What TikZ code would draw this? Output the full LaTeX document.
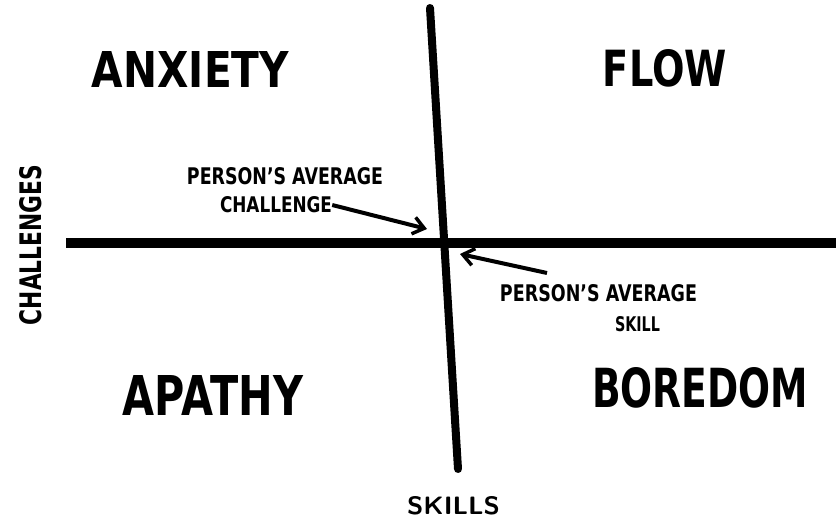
\documentclass[tikz,border=0pt]{standalone}
\usepackage{fontspec}
\setmainfont{DejaVu Sans}
\usepackage{graphicx}
\usetikzlibrary{arrows.meta}
\tikzset{
  big/.style={inner sep=0pt, font=\bfseries},
  small/.style={inner sep=0pt, font=\bfseries},
  axis/.style={line width=#1, line cap=round},
  pointer/.style={line width=4pt, -{Straight Barb[length=11pt,width=17pt,line width=3.5pt]}}
}
\newcommand{\fitbox}[3]{\resizebox{#1pt}{#2pt}{#3}}
\begin{document}
\begin{tikzpicture}[x=1pt,y=-1pt]
\useasboundingbox (0,0) rectangle (836,521);
% axes
\coordinate (vtop) at (430,8);
\coordinate (vbot) at (458,469);
\coordinate (hleft) at (66,243);
\coordinate (hright) at (836,243);
\draw[axis=8pt] (vtop) -- (vbot);
\draw[axis=10pt,line cap=butt] (hleft) -- (hright);
% quadrant labels
\node[big] (anx) at (190.5,70) {\fitbox{197}{36}{ANXIETY}};
\node[big] (flow) at (665,68.5) {\fitbox{124}{37}{FLOW}};
\node[big] (apa) at (213,395) {\fitbox{180}{40}{APATHY}};
\node[big] (bor) at (700,388) {\fitbox{216}{40}{BOREDOM}};
% axis labels
\node[small,rotate=90] (chal) at (31,245) {\fitbox{160}{22}{CHALLENGES}};
\node[small,font=\sffamily\bfseries] (skills) at (453.5,506) {\fitbox{93}{18}{SKILLS}};
% person's average challenge
\node[small] (pac1) at (285,176.5) {\fitbox{196}{17}{PERSON'S AVERAGE}};
\node[small] (pac2) at (276,205) {\fitbox{112}{16}{CHALLENGE}};
\coordinate (t1) at (427,229);
\draw[pointer] (pac2.east) -- (t1);
% person's average skill
\node[small] (pas1) at (598.5,293.5) {\fitbox{197}{17}{PERSON'S AVERAGE}};
\node[small] (pas2) at (637.5,324.5) {\fitbox{45}{15}{SKILL}};
\coordinate (s0) at (547,273);
\coordinate (t2) at (460,254);
\draw[pointer] (s0) -- (t2);
\end{tikzpicture}
\end{document}
